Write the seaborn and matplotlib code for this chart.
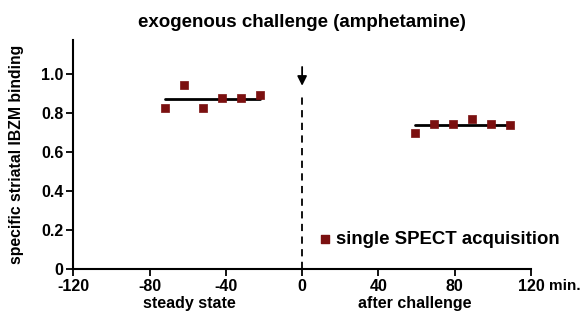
import matplotlib
matplotlib.use("Agg")
import matplotlib.pyplot as plt
import seaborn as sns
import pandas as pd
import numpy as np

# Data
steady_time = [-72, -62, -52, -42, -32, -22]
steady_binding = [0.826, 0.944, 0.826, 0.877, 0.877, 0.892]
after_time = [59, 69, 79, 89, 99, 109]
after_binding = [0.697, 0.744, 0.744, 0.769, 0.744, 0.738]
xticks = [-120, -80, -40, 0, 40, 80, 120]
xtick_labels = ["-120", "-80", "-40", "0", "40", "80", "120"]
yticks = [0, 0.2, 0.4, 0.6, 0.8, 1.0]
ytick_labels = ["0", "0.2", "0.4", "0.6", "0.8", "1.0"]

MARKER_COLOR = "#7b1010"

sns.set_style("ticks")
plt.rcParams["font.family"] = ["Liberation Sans", "DejaVu Sans"]
plt.rcParams["font.weight"] = "bold"
for key in ["text.color", "axes.labelcolor", "xtick.color", "ytick.color",
            "axes.edgecolor"]:
    plt.rcParams[key] = "black"

df = pd.DataFrame({
    "time": steady_time + after_time,
    "binding": steady_binding + after_binding,
    "phase": ["steady"] * len(steady_time) + ["after"] * len(after_time),
})

fig = plt.figure(figsize=(5.81, 3.25), dpi=100)
ax = fig.add_axes([0.126, 0.172, 0.788, 0.705])

sns.scatterplot(data=df, x="time", y="binding", marker="s", s=28,
                color=MARKER_COLOR, edgecolor=MARKER_COLOR, linewidth=0.5,
                ax=ax, zorder=3, legend=False)

# mean lines per phase
for t, b in [(steady_time, steady_binding), (after_time, after_binding)]:
    ax.plot([min(t), max(t)], [np.mean(b)] * 2, color="black", lw=2, zorder=2)

# challenge marker
ax.plot([0, 0], [0, 0.88], color="black", lw=1.3, ls=(0, (4, 3)))
ax.annotate("", xy=(0, 0.925), xytext=(0, 1.05),
            arrowprops=dict(arrowstyle="-|>", color="black", lw=1.3,
                            mutation_scale=14))

ax.set_xlim(-120, 120)
ax.set_ylim(0, 1.174)
ax.set_xticks(xticks)
ax.set_xticklabels(xtick_labels, fontsize=11.5, fontweight="bold")
ax.set_yticks(yticks)
ax.set_yticklabels(ytick_labels, fontsize=11.5, fontweight="bold")
ax.tick_params(length=5, width=1.3, direction="out", pad=2)
for s in ["left", "bottom"]:
    ax.spines[s].set_linewidth(1.5)
sns.despine(ax=ax)

ax.annotate("min.", xy=(120, 0), xytext=(13, -7), textcoords="offset points",
            ha="left", va="top", fontsize=11, fontweight="bold",
            annotation_clip=False)

ax.set_xlabel("")
ax.set_ylabel("specific striatal IBZM binding", fontsize=11.3,
              fontweight="bold", labelpad=12)
ax.set_title("exogenous challenge (amphetamine)", fontsize=13.5,
             fontweight="bold", pad=9)

ax.text(-59, -0.14, "steady state", ha="center", va="top", fontsize=11.5,
        fontweight="bold", clip_on=False)
ax.text(59, -0.14, "after challenge", ha="center", va="top", fontsize=11.5,
        fontweight="bold", clip_on=False)

ax.scatter([12], [0.152], marker="s", s=28, color=MARKER_COLOR, zorder=3)
ax.text(18, 0.152, "single SPECT acquisition", ha="left", va="center",
        fontsize=13.4, fontweight="bold")

fig.savefig("out.png", dpi=100)
